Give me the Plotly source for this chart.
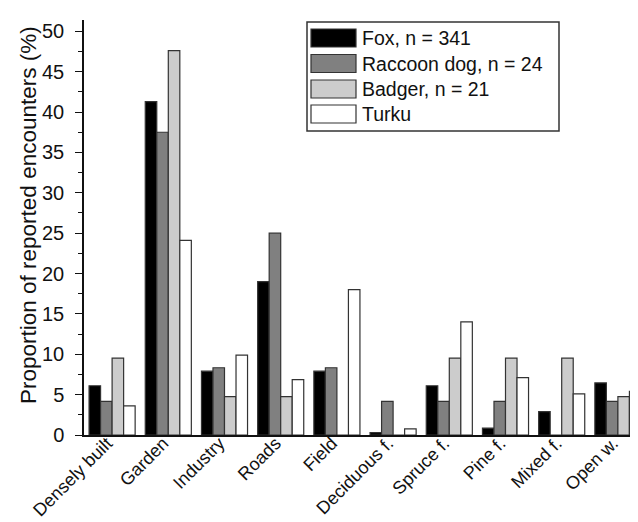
import plotly.graph_objects as go

categories = ["Densely built", "Garden", "Industry", "Roads", "Field",
              "Deciduous f.", "Spruce f.", "Pine f.", "Mixed f.", "Open w."]
fox = [6.1, 41.3, 7.9, 19.0, 7.9, 0.3, 6.1, 0.85, 2.9, 6.45]
raccoon_dog = [4.17, 37.5, 8.33, 25.0, 8.33, 4.17, 4.17, 4.17, 0.0, 4.17]
badger = [9.52, 47.6, 4.76, 4.76, 0.0, 0.0, 9.52, 9.52, 9.52, 4.76]
turku = [3.6, 24.1, 9.9, 6.85, 18.0, 0.75, 14.0, 7.1, 5.1, 5.4]

series_names = ["Fox, n = 341", "Raccoon dog, n = 24", "Badger, n = 21", "Turku"]
series_values = [fox, raccoon_dog, badger, turku]
series_colors = ["#000000", "#808080", "#cccccc", "#ffffff"]

y_tick_vals = [0, 5, 10, 15, 20, 25, 30, 35, 40, 45, 50]
y_tick_text = [str(v) for v in y_tick_vals]
y_title = "Proportion of reported encounters (%)"

FONT = "Liberation Sans, Arial, sans-serif"

fig = go.Figure()
for name, vals, col in zip(series_names, series_values, series_colors):
    fig.add_trace(go.Bar(
        x=categories, y=vals, name=name,
        marker=dict(color=col, line=dict(color="#333333", width=1.2)),
        showlegend=False,
    ))

W, H = 638, 522
ml, mr, mt, mb = 76, 0, 12, 95
pw, ph = W - ml - mr, H - mt - mb

def px_to_paper(x, y):
    return (x - ml) / pw, 1 - (y - mt) / ph

shapes = []
annotations = []

# custom legend (box + wide swatches)
L_x0, L_x1 = 299, 551
L_y0, L_y1 = 14, 123
x0p, y0p = px_to_paper(L_x0, L_y0)
x1p, y1p = px_to_paper(L_x1, L_y1)
shapes.append(dict(type="rect", xref="paper", yref="paper",
                   x0=x0p, x1=x1p, y0=y1p, y1=y0p,
                   line=dict(color="#333333", width=1.5), fillcolor="white", layer="above"))
row_centers = [30, 55.5, 81, 106]
for name, col, yc in zip(series_names, series_colors, row_centers):
    sx0, sy0 = px_to_paper(303, yc - 9)
    sx1, sy1 = px_to_paper(348, yc + 9)
    shapes.append(dict(type="rect", xref="paper", yref="paper",
                       x0=sx0, x1=sx1, y0=sy1, y1=sy0,
                       line=dict(color="#333333", width=1.2), fillcolor=col, layer="above"))
    tx, ty = px_to_paper(352, yc)
    annotations.append(dict(text=name, xref="paper", yref="paper", x=tx, y=ty,
                            xanchor="left", yanchor="middle", showarrow=False,
                            font=dict(family=FONT, size=19.5, color="#111111")))

# y-axis title as rotated annotation
atx, aty = px_to_paper(20, 207)
annotations.append(dict(text=y_title, xref="paper", yref="paper", x=atx, y=aty,
                        xanchor="center", yanchor="middle", textangle=-90,
                        showarrow=False,
                        font=dict(family=FONT, size=22.5, color="#111111")))

fig.update_layout(
    width=W, height=H,
    margin=dict(l=ml, r=mr, t=mt, b=mb),
    paper_bgcolor="white", plot_bgcolor="white",
    barmode="group", bargap=0.18, bargroupgap=0.0,
    font=dict(family=FONT, size=18, color="#111111"),
    shapes=shapes, annotations=annotations,
    xaxis=dict(
        showline=True, linecolor="#111111", linewidth=1.5,
        ticks="", tickangle=-45, showgrid=False,
        tickfont=dict(family=FONT, size=18, color="#111111"),
        ticklabelstandoff=-11, ticklabelshift=-5,
        range=[-0.5, 9.5],
    ),
    yaxis=dict(
        range=[0, 51.4], showline=True, linecolor="#111111", linewidth=1.5,
        tickvals=y_tick_vals, ticktext=y_tick_text,
        ticks="outside", ticklen=7, tickwidth=1.3, tickcolor="#111111",
        minor=dict(dtick=2.5, ticks="outside", ticklen=4, tickwidth=1.1, tickcolor="#111111"),
        showgrid=False, zeroline=False,
        ticklabelstandoff=7,
        tickfont=dict(family=FONT, size=20, color="#111111"),
    ),
)

fig.write_html("out.html")
